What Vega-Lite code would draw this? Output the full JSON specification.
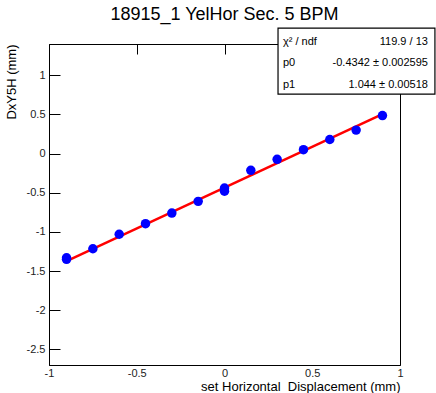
{
  "$schema": "https://vega.github.io/schema/vega-lite/v6.json",
  "width": 351,
  "height": 321,
  "autosize": {"type": "none"},
  "padding": {"left": 49, "top": 44, "right": 36, "bottom": 28},
  "background": "white",
  "config": {
    "font": "Liberation Sans",
    "view": {"stroke": "black", "strokeWidth": 1}
  },
  "title": {
    "text": "18915_1 YelHor Sec. 5 BPM",
    "font": "Liberation Sans",
    "fontSize": 18,
    "fontWeight": "normal",
    "color": "#000",
    "anchor": "middle",
    "offset": 3
  },
  "datasets": {
    "points": [
      {"x": -0.9, "y": -1.33},
      {"x": -0.9, "y": -1.35},
      {"x": -0.75, "y": -1.215},
      {"x": -0.6, "y": -1.03},
      {"x": -0.45, "y": -0.895},
      {"x": -0.3, "y": -0.76},
      {"x": -0.15, "y": -0.61},
      {"x": 0, "y": -0.44},
      {"x": 0, "y": -0.48},
      {"x": 0.15, "y": -0.213},
      {"x": 0.3, "y": -0.073},
      {"x": 0.45, "y": 0.05},
      {"x": 0.6, "y": 0.18},
      {"x": 0.75, "y": 0.30},
      {"x": 0.9, "y": 0.486}
    ],
    "fit": [
      {"x": -0.9, "y": -1.374},
      {"x": 0.9, "y": 0.5054}
    ],
    "box": [
      {"x1": 0.305, "x2": 1.199, "y1": 0.761, "y2": 1.604}
    ],
    "stats": [
      {"label": "χ² / ndf", "value": "119.9 / 13", "xl": 0.333, "xr": 1.159, "y": 1.425},
      {"label": "p0", "value": "-0.4342 ± 0.002595", "xl": 0.333, "xr": 1.159, "y": 1.153},
      {"label": "p1", "value": "1.044 ± 0.00518", "xl": 0.333, "xr": 1.159, "y": 0.876}
    ]
  },
  "layer": [
    {
      "data": {"name": "fit"},
      "mark": {"type": "line", "color": "#ff0000", "strokeWidth": 2.5},
      "encoding": {
        "x": {
          "field": "x", "type": "quantitative",
          "scale": {"domain": [-1, 1], "nice": false, "zero": false},
          "axis": {
            "orient": "bottom",
            "title": "set Horizontal_Displacement (mm)",
            "titleFont": "Liberation Sans",
            "titleFontSize": 13,
            "titleFontWeight": "normal",
            "titleColor": "#000",
            "titleAnchor": "end",
            "titlePadding": 2,
            "values": [-1, -0.5, 0, 0.5, 1],
            "labelExpr": "datum.value + ''",
            "labelFont": "Liberation Sans",
            "labelFontSize": 11,
            "labelColor": "#222",
            "labelPadding": 2,
            "labelFlush": false,
            "labelOverlap": false,
            "ticks": false,
            "domainColor": "#000",
            "domainWidth": 1,
            "grid": true,
            "gridColor": "black",
            "gridOpacity": 1,
            "gridWidth": 1,
            "gridDash": [10, 2000]
          }
        },
        "y": {
          "field": "y", "type": "quantitative",
          "scale": {"domain": [-2.7, 1.4], "nice": false, "zero": false},
          "axis": {
            "orient": "left",
            "title": "DxY5H (mm)",
            "titleFont": "Liberation Sans",
            "titleFontSize": 13,
            "titleFontWeight": "normal",
            "titleColor": "#000",
            "titleAnchor": "end",
            "titlePadding": 8,
            "values": [-2.5, -2, -1.5, -1, -0.5, 0, 0.5, 1],
            "labelExpr": "datum.value + ''",
            "labelFont": "Liberation Sans",
            "labelFontSize": 11,
            "labelColor": "#222",
            "labelPadding": 4,
            "labelFlush": false,
            "labelOverlap": false,
            "ticks": false,
            "domainColor": "#000",
            "domainWidth": 1,
            "grid": true,
            "gridColor": "black",
            "gridOpacity": 1,
            "gridWidth": 1,
            "gridDash": [11, 2000]
          }
        }
      }
    },
    {
      "data": {"name": "points"},
      "mark": {"type": "circle", "size": 90, "opacity": 1, "color": "#0000ff"},
      "encoding": {
        "x": {"field": "x", "type": "quantitative"},
        "y": {"field": "y", "type": "quantitative"}
      }
    },
    {
      "data": {"name": "box"},
      "mark": {"type": "rect", "fill": "white", "stroke": "black", "strokeWidth": 1.2, "clip": false},
      "encoding": {
        "x": {"field": "x1", "type": "quantitative"},
        "x2": {"field": "x2"},
        "y": {"field": "y1", "type": "quantitative"},
        "y2": {"field": "y2"}
      }
    },
    {
      "data": {"name": "stats"},
      "mark": {"type": "text", "align": "left", "baseline": "middle", "font": "Liberation Sans", "fontSize": 11, "color": "#000"},
      "encoding": {
        "x": {"field": "xl", "type": "quantitative"},
        "y": {"field": "y", "type": "quantitative"},
        "text": {"field": "label"}
      }
    },
    {
      "data": {"name": "stats"},
      "mark": {"type": "text", "align": "right", "baseline": "middle", "font": "Liberation Sans", "fontSize": 11, "color": "#000"},
      "encoding": {
        "x": {"field": "xr", "type": "quantitative"},
        "y": {"field": "y", "type": "quantitative"},
        "text": {"field": "value"}
      }
    }
  ]
}
